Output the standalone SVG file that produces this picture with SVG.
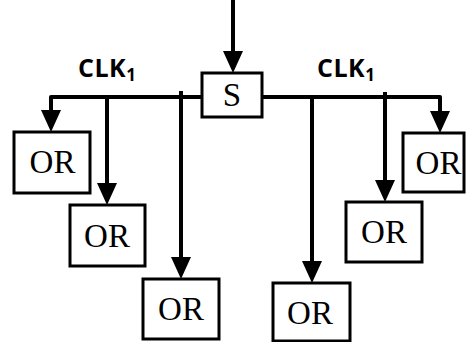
<svg xmlns="http://www.w3.org/2000/svg" width="466" height="342" viewBox="0 0 466 342">
  <style>
    .box { fill: #fff; stroke: #000; stroke-width: 3; }
    .gate { font-family: "Liberation Serif", "Times New Roman", serif; font-size: 33px; fill: #000; text-anchor: middle; }
    .wire { fill: none; stroke: #000; stroke-width: 4; stroke-linecap: round; stroke-linejoin: miter; }
    .arrow { marker-end: url(#head); stroke-linecap: butt; }
    .clk { font-family: "Open Sans", "Liberation Sans", Arial, sans-serif; font-weight: bold; font-size: 25px; letter-spacing: 0.5px; fill: #000; }
    .sub { font-size: 17px; }
  </style>
  <defs>
    <marker id="head" markerUnits="userSpaceOnUse" viewBox="0 0 22 20" markerWidth="22" markerHeight="20" refX="10" refY="10" orient="auto">
      <path d="M0,0 L22,10 L0,20 Z" fill="#000"/>
    </marker>
  </defs>

  <!-- clock distribution wires -->
  <g id="connectors">
    <line class="wire arrow" x1="233" y1="0" x2="233" y2="61"/>
    <path class="wire" d="M202,97 H51"/>
    <path class="wire" d="M262,97 H440"/>
    <line class="wire arrow" x1="51" y1="97" x2="51" y2="120"/>
    <line class="wire arrow" x1="107" y1="97" x2="107" y2="193"/>
    <line class="wire arrow" x1="181" y1="91" x2="181" y2="267"/>
    <line class="wire arrow" x1="312" y1="97" x2="312" y2="271"/>
    <line class="wire arrow" x1="385" y1="92" x2="385" y2="190"/>
    <line class="wire arrow" x1="440" y1="97" x2="440" y2="121"/>
  </g>

  <g id="label-clk-left">
    <text class="clk" x="78" y="77">CLK<tspan class="sub" dy="4">1</tspan></text>
  </g>
  <g id="label-clk-right">
    <text class="clk" x="317" y="77">CLK<tspan class="sub" dy="4">1</tspan></text>
  </g>

  <g id="node-s">
    <rect class="box" x="202" y="73" width="60" height="44"/>
    <text class="gate" x="232" y="106">S</text>
  </g>
  <g id="node-or1">
    <rect class="box" x="14" y="132" width="76" height="61"/>
    <text class="gate" x="52.5" y="173">OR</text>
  </g>
  <g id="node-or2">
    <rect class="box" x="70" y="205" width="75" height="61"/>
    <text class="gate" x="107" y="246.5">OR</text>
  </g>
  <g id="node-or3">
    <rect class="box" x="143" y="279" width="76" height="60"/>
    <text class="gate" x="181" y="320">OR</text>
  </g>
  <g id="node-or4">
    <rect class="box" x="273" y="283" width="77" height="58"/>
    <text class="gate" x="310" y="324">OR</text>
  </g>
  <g id="node-or5">
    <rect class="box" x="346" y="202" width="76" height="60"/>
    <text class="gate" x="384" y="243">OR</text>
  </g>
  <g id="node-or6">
    <rect class="box" x="403" y="133" width="61" height="59"/>
    <text class="gate" x="438.5" y="173.5">OR</text>
  </g>
</svg>
